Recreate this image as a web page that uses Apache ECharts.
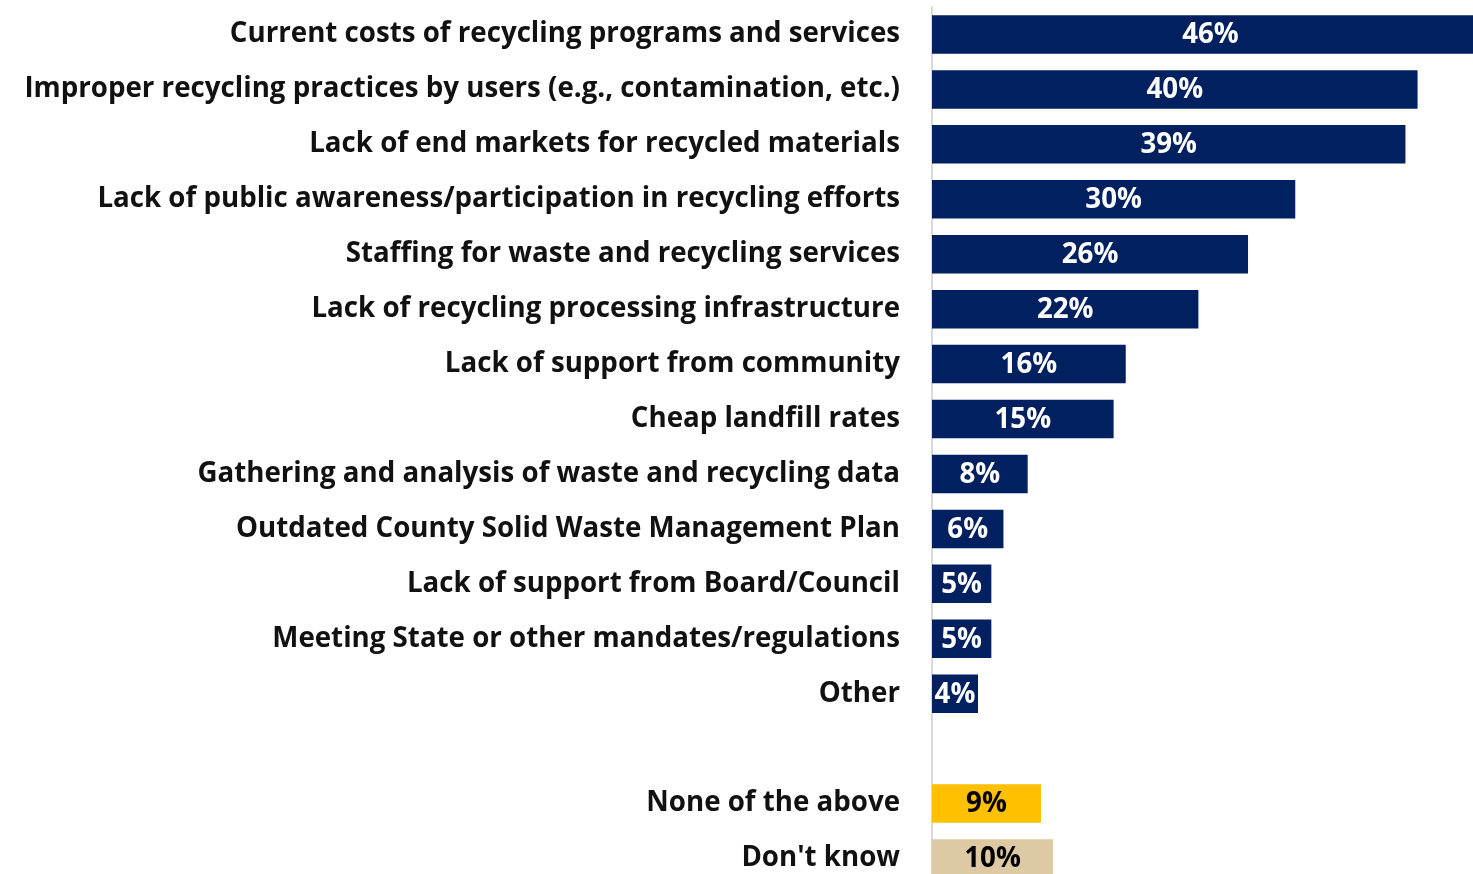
<!DOCTYPE html>
<html>
<head>
<meta charset="utf-8">
<script src="https://cdn.jsdelivr.net/npm/echarts@6/dist/echarts.min.js"></script>
<style>
html,body{margin:0;padding:0;background:#fff;}
#chart{width:1473px;height:874px;}
</style>
</head>
<body>
<div id="chart"></div>
<script>
const categories = [
  "Current costs of recycling programs and services",
  "Improper recycling practices by users (e.g., contamination, etc.)",
  "Lack of end markets for recycled materials",
  "Lack of public awareness/participation in recycling efforts",
  "Staffing for waste and recycling services",
  "Lack of recycling processing infrastructure",
  "Lack of support from community",
  "Cheap landfill rates",
  "Gathering and analysis of waste and recycling data",
  "Outdated County Solid Waste Management Plan",
  "Lack of support from Board/Council",
  "Meeting State or other mandates/regulations",
  "Other",
  "",
  "None of the above",
  "Don't know"
];
const values = [46, 40.1, 39.1, 30, 26.1, 22, 16, 15, 7.9, 5.9, 4.9, 4.9, 3.8, null, 9, 10];

const NAVY = '#002060', YELLOW = '#FFC000', TAN = '#DDC9A3';
function colorFor(name) {
  if (name === "None of the above") return YELLOW;
  if (name === "Don't know") return TAN;
  return NAVY;
}
function labelColorFor(name) {
  return (name === "None of the above" || name === "Don't know") ? '#000' : '#fff';
}

const chart = echarts.init(document.getElementById('chart'), null, {renderer: 'canvas'});
const FONT = '"Open Sans", Lato, sans-serif';
chart.setOption({
  animation: false,
  grid: {left: 932, top: 7, width: 557, height: 879, containLabel: false, outerBoundsMode: 'none'},
  xAxis: {
    type: 'value', min: 0, max: 46,
    axisLine: {show: false}, axisTick: {show: false},
    axisLabel: {show: false}, splitLine: {show: false}
  },
  yAxis: {
    type: 'category', inverse: true, data: categories,
    axisLine: {show: true, lineStyle: {color: '#d9d9d9', width: 2}},
    axisTick: {show: false},
    axisLabel: {
      margin: 32, color: '#111', fontFamily: FONT, fontWeight: 'bold', fontSize: 27.7
    }
  },
  series: [{
    type: 'bar',
    barWidth: '70%',
    clip: true,
    data: values.map((v, i) => ({
      value: v,
      itemStyle: {color: colorFor(categories[i])},
      label: {color: labelColorFor(categories[i])}
    })),
    label: {
      show: true, position: 'inside', offset: [0, 1],
      fontFamily: FONT, fontWeight: 'bold', fontSize: 27.7,
      formatter: p => p.value == null ? '' : Math.round(p.value) + '%'
    }
  }]
});
</script>
</body>
</html>
